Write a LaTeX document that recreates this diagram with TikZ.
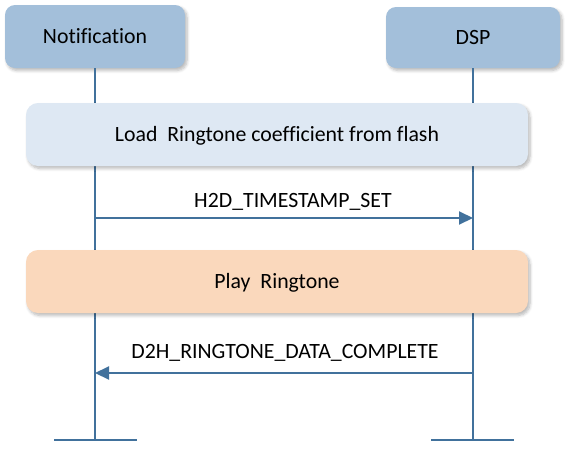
\documentclass[tikz,border=0pt]{standalone}
\usepackage{fontspec}
\setmainfont{Carlito}[Ligatures=NoCommon]
\usetikzlibrary{arrows.meta,shadows,shadows.blur}
\definecolor{hdr}{RGB}{163,191,218}
\definecolor{loadc}{RGB}{222,232,243}
\definecolor{playc}{RGB}{250,216,188}
\definecolor{linec}{RGB}{65,113,156}
\begin{document}
\begin{tikzpicture}[x=1pt,y=-1pt,
  font=\fontsize{21.8}{26}\selectfont,
  softshadow/.style={blur shadow={shadow xshift=2pt,shadow yshift=-2.5pt,shadow blur steps=6,shadow blur radius=3pt,shadow opacity=28}},
  hdrbox/.style={fill=hdr,rounded corners=10pt,softshadow,text height=14pt,text depth=0pt,inner sep=0pt},
  band/.style={rounded corners=12pt,softshadow,text height=14pt,text depth=0pt,inner sep=0pt,minimum width=502pt,minimum height=63pt},
  life/.style={draw=linec,line width=2pt},
  msg/.style={draw=linec,line width=2pt,-{Triangle[length=14pt,width=13pt]}},
  lbl/.style={anchor=base,inner sep=0pt}]
\useasboundingbox (0,0) rectangle (575,455);
% headers
\node[hdrbox,minimum width=180pt,minimum height=63pt] (nh) at (95,36.5) {Notification};
\node[hdrbox,minimum width=174pt,minimum height=61pt] (dh) at (473,37.5) {DSP};
% lifeline ends
\coordinate (nb) at (95,440);
\coordinate (db) at (473,440);
\coordinate (nbl) at (54,440);
\coordinate (nbr) at (137,440);
\coordinate (dbl) at (431,440);
\coordinate (dbr) at (514,440);
\draw[life] (nh.south) -- (nb);
\draw[life] (dh.south) -- (db);
\draw[life] (nbl) -- (nbr);
\draw[life] (dbl) -- (dbr);
% bands
\node[band,fill=loadc] (load) at (277,134.5) {Load\ \ Ringtone coefficient from flash};
\node[band,fill=playc] (play) at (277,281.5) {Play\ \ Ringtone};
% messages
\coordinate (m1s) at (95,218);
\coordinate (m1e) at (473,218);
\draw[msg] (m1s) -- (m1e);
\node[lbl] (m1l) at (293,207) {H2D\_TIMESTAMP\_SET};
\coordinate (m2s) at (473,373);
\coordinate (m2e) at (95,373);
\draw[msg] (m2s) -- (m2e);
\node[lbl] (m2l) at (285,358) {D2H\_RINGTONE\_DATA\_COMPLETE};
\end{tikzpicture}
\end{document}
